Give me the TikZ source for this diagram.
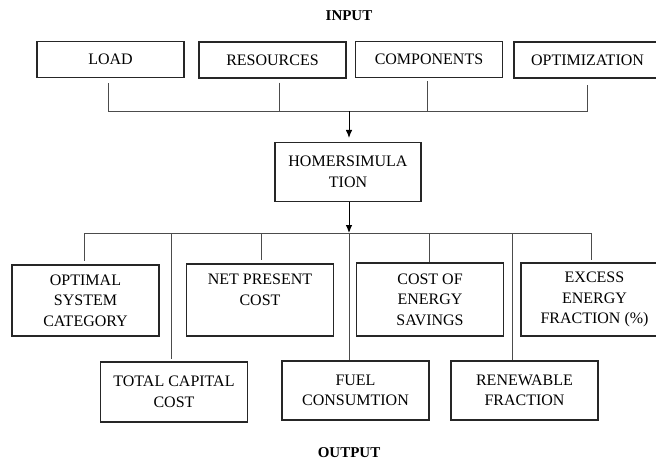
\documentclass[tikz,border=0pt]{standalone}
\usepackage{fontspec}
\setmainfont{Liberation Serif}
\usetikzlibrary{arrows.meta,%
                positioning}

\tikzset{box/.style={draw=black!85, line width=1.1pt, align=center,
                     minimum width=147pt, inner sep=2pt,
                     font=\fontsize{16}{20.5}\selectfont},
         link/.style={draw=black!70, line width=0.8pt},
         feed/.style={draw=black, line width=0.9pt, -{Latex[length=8pt,width=6.5pt]}},
         head/.style={font=\bfseries\fontsize{15}{17}\selectfont}}

\begin{document}
\begin{tikzpicture}[x=1pt,y=-1pt]
\useasboundingbox (0,0) rectangle (656,463);
\clip (0,0) rectangle (656,463);

\node[head] (in) at (349,16) {INPUT};
\node[box,minimum height=36pt] (load) at (110.5,59.7) {LOAD};
\node[box,minimum height=36pt] (res) at (272.5,60) {RESOURCES};
\node[box,minimum height=36pt] (comp) at (429,59.5) {COMPONENTS};
\node[box,minimum height=36pt] (opt) at (587.5,60) {OPTIMIZATION};

\node[box,minimum width=146pt,minimum height=59pt] (homer) at (348,172) {HOMERSIMULA\\TION};

\node[box,minimum height=71pt] (osc) at (85.5,300.5) {OPTIMAL\\SYSTEM\\CATEGORY};
\node[box,minimum height=72pt] (npc) at (260,300) {NET PRESENT\\COST\\\mbox{}};
\node[box,minimum height=73pt] (coe) at (430,299.5) {COST OF\\ENERGY\\SAVINGS};
\node[box,minimum height=73pt] (eef) at (594.5,299.5) {EXCESS\\ENERGY\\FRACTION (\%)};
\node[box,minimum height=60pt] (tcc) at (174,392) {TOTAL CAPITAL\\COST};
\node[box,minimum height=59pt] (fuel) at (355.5,390.5) {FUEL\\CONSUMTION};
\node[box,minimum height=59pt] (ren) at (524.5,390.5) {RENEWABLE\\FRACTION};
\node[head] (out) at (349,453) {OUTPUT};

% input bus
\coordinate (inbus) at (349,111);
\draw[link] ([xshift=-2.5pt,yshift=-5pt]load.south) -- ([xshift=-2.5pt]load.south |- inbus)
  -- (opt.south |- inbus) -- ([yshift=-6pt]opt.south);
\draw[link] ([xshift=7pt,yshift=-4pt]res.south) -- ([xshift=7pt]res.south |- inbus);
\draw[link] ([xshift=-2pt,yshift=-3pt]comp.south) -- ([xshift=-2pt]comp.south |- inbus);
\draw[feed,shorten >=4pt] (inbus) -- (homer.north -| inbus);

% output bus
\coordinate (outbus) at (349,233);
\draw[feed] (homer.south -| outbus) -- (outbus);
\draw[link,shorten >=3pt] ([xshift=-1.5pt]osc.north |- outbus) -- ([xshift=-1.5pt]osc.north);
\draw[link] ([xshift=-1.5pt]osc.north |- outbus) -- ([xshift=-3.5pt]eef.north |- outbus);
\draw[link,shorten >=2pt] ([xshift=-3.5pt]eef.north |- outbus) -- ([xshift=-3.5pt]eef.north);
\draw[link,shorten >=3pt] ([xshift=1.5pt]npc.north |- outbus) -- ([xshift=1.5pt]npc.north);
\draw[link] ([xshift=-1pt]coe.north |- outbus) -- ([xshift=-1pt]coe.north);
\draw[link,shorten >=2pt] ([xshift=-3pt]tcc.north |- outbus) -- ([xshift=-3pt]tcc.north);
\draw[link] (outbus) -- (fuel.north -| outbus);
\draw[link] ([xshift=-12pt]ren.north |- outbus) -- ([xshift=-12pt]ren.north);
\end{tikzpicture}
\end{document}
